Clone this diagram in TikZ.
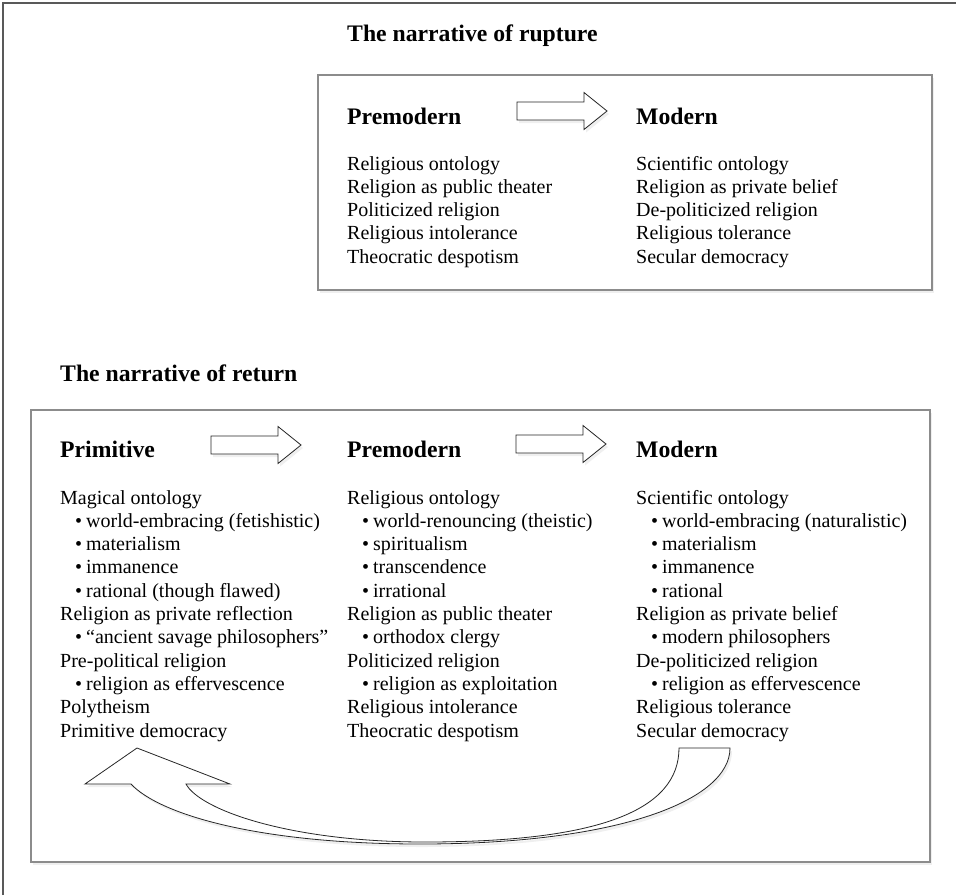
\documentclass[tikz,border=0pt]{standalone}
\usepackage{fontspec}
\setmainfont{Liberation Serif}
\usetikzlibrary{shadows}

\newcommand{\bodyfont}{\fontsize{20}{23.3}\selectfont}
\newcommand{\headfont}{\fontsize{23.7}{28}\selectfont\bfseries}
\newcommand{\bul}{\hspace*{15pt}\makebox[11pt][l]{\textbullet}}

\tikzset{
  frame/.style={draw=black!65, line width=1.2pt},
  panel/.style={draw=black!45, line width=1.2pt, fill=white,
    drop shadow={shadow xshift=2pt, shadow yshift=-3pt, fill=black!12}},
  blockarrow/.style={draw=black!85, line width=0.8pt, fill=white,
    drop shadow={shadow xshift=2pt, shadow yshift=-3pt, fill=black!12}},
  heading/.style={anchor=base west, inner sep=0pt, font=\headfont},
  column/.style={anchor=base west, inner sep=0pt, font=\bodyfont},
}

\begin{document}
\begin{tikzpicture}[x=1pt,y=-1pt]
    \useasboundingbox (0,0) rectangle (956,895);

    %%%% Outer frame %%%%%%%%%%%%%%%%%%%%%%%%%%%%%%%%%%%%%%%%%%%%%%%%%%%%%%
    \draw[frame] (3,895) -- (3,3) -- (956,3);

    %%%% Rupture %%%%%%%%%%%%%%%%%%%%%%%%%%%%%%%%%%%%%%%%%%%%%%%%%%%%%%%%%%
    \node[heading] (rupture) at (347,41) {The narrative of rupture};
    \draw[panel] (318,75) rectangle (932,290);

    \node[heading] (rupPre) at (347,124) {Premodern};
    \node[heading] (rupMod) at (636,124) {Modern};

    \node[column] (rupPreList) at (347,170) {\begin{tabular}[t]{@{}l@{}}
      Religious ontology\\
      Religion as public theater\\
      Politicized religion\\
      Religious intolerance\\
      Theocratic despotism
    \end{tabular}};
    \node[column] (rupModList) at (636,170) {\begin{tabular}[t]{@{}l@{}}
      Scientific ontology\\
      Religion as private belief\\
      De-politicized religion\\
      Religious tolerance\\
      Secular democracy
    \end{tabular}};

    %%%% Return %%%%%%%%%%%%%%%%%%%%%%%%%%%%%%%%%%%%%%%%%%%%%%%%%%%%%%%%%%%
    \node[heading] (return) at (60,381) {The narrative of return};
    \draw[panel] (31,410) rectangle (930,862);

    \node[heading] (retPrim) at (60,457) {Primitive};
    \node[heading] (retPre) at (347,457) {Premodern};
    \node[heading] (retMod) at (636,457) {Modern};

    \node[column] (retPrimList) at (60,504) {\begin{tabular}[t]{@{}l@{}}
      Magical ontology\\
      \bul world-embracing (fetishistic)\\
      \bul materialism\\
      \bul immanence\\
      \bul rational (though flawed)\\
      Religion as private reflection\\
      \bul “ancient savage philosophers”\\
      Pre-political religion\\
      \bul religion as effervescence\\
      Polytheism\\
      Primitive democracy
    \end{tabular}};
    \node[column] (retPreList) at (347,504) {\begin{tabular}[t]{@{}l@{}}
      Religious ontology\\
      \bul world-renouncing (theistic)\\
      \bul spiritualism\\
      \bul transcendence\\
      \bul irrational\\
      Religion as public theater\\
      \bul orthodox clergy\\
      Politicized religion\\
      \bul religion as exploitation\\
      Religious intolerance\\
      Theocratic despotism
    \end{tabular}};
    \node[column] (retModList) at (636,504) {\begin{tabular}[t]{@{}l@{}}
      Scientific ontology\\
      \bul world-embracing (naturalistic)\\
      \bul materialism\\
      \bul immanence\\
      \bul rational\\
      Religion as private belief\\
      \bul modern philosophers\\
      De-politicized religion\\
      \bul religion as effervescence\\
      Religious tolerance\\
      Secular democracy
    \end{tabular}};

    %%%% Block arrows %%%%%%%%%%%%%%%%%%%%%%%%%%%%%%%%%%%%%%%%%%%%%%%%%%%%%
    \foreach \ax/\ay in {517/111, 211/445, 516/444}
      \draw[blockarrow] (\ax,\ay) ++(0,-9)
        -- ++(67,0) -- ++(0,-9.5) -- ++(23,18.5)
        -- ++(-23,18.5) -- ++(0,-9.5) -- ++(-67,0) -- cycle;

    %%%% Curved return arrow %%%%%%%%%%%%%%%%%%%%%%%%%%%%%%%%%%%%%%%%%%%%%%
    \draw[blockarrow]
         (730,748) -- (679,748)
      .. controls (679,810) and (600,842) .. (425,842)
      .. controls (290,842) and (200,810) .. (186,784)
      -- (230,784) -- (137,748) -- (85,784) -- (131,784)
      .. controls (160,815) and (260,844) .. (420,844)
      .. controls (620,844) and (730,800) .. (730,748) -- cycle;
\end{tikzpicture}
\end{document}
